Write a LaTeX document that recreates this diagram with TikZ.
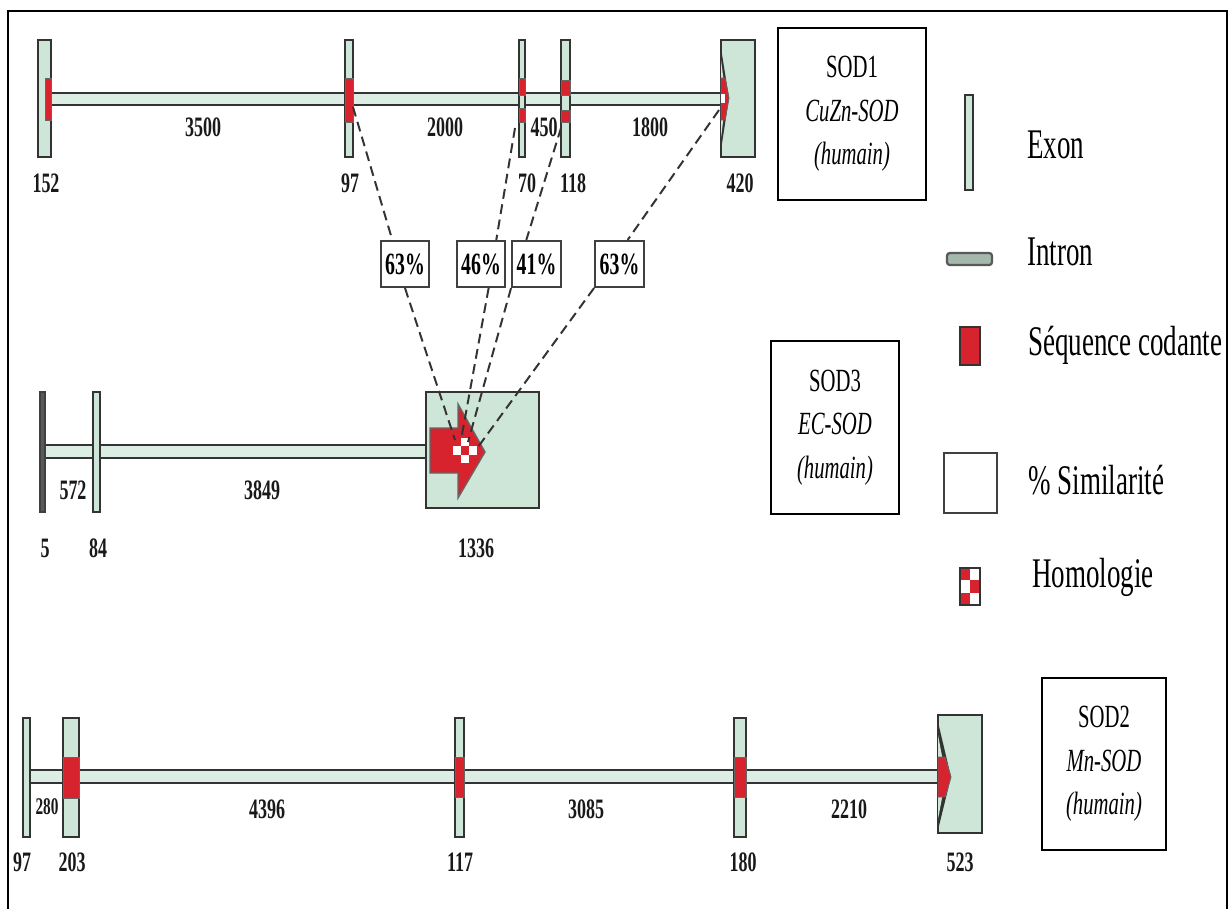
\documentclass[tikz,border=0pt]{standalone}
\usepackage{fontspec}
\setmainfont{Liberation Serif}[FakeStretch=0.64]
\usepackage{xcolor}
\usepackage{tikz}
\usetikzlibrary{calc, positioning}
\definecolor{exvert}{RGB}{205,230,215}
\definecolor{codrouge}{RGB}{215,35,45}

\begin{document}
\begin{tikzpicture}[x=0.025cm, y=-0.025cm,
    exon/.style={draw=black!80, fill=exvert, line width=1.1pt},
    intron/.style={draw=black!80, fill=exvert!70, line width=1.6pt},
    code/.style={draw=black!60, fill=codrouge, line width=0.6pt},
    num/.style={font=\bfseries\fontsize{20}{22}\selectfont, text=black!90, inner sep=0pt},
    pct/.style={draw=black!75, line width=1.5pt, fill=white, minimum width=1.22cm, minimum height=1.15cm, inner sep=1pt, font=\bfseries\fontsize{22}{24}\selectfont},
    gene/.style={draw, line width=1pt, align=center, font=\fontsize{23}{31}\selectfont},
    leg/.style={anchor=west, inner sep=0pt, font=\fontsize{30}{32}\selectfont},
    lien/.style={dashed, dash pattern=on 7pt off 4pt, line width=1.4pt, black!80}]
    \useasboundingbox (0,0) rectangle (1232,909);
    % Cadre ouvert en bas
    \draw[line width=2pt] (8,909) -- (8,11) -- (1227,11) -- (1227,909);

    % SOD1 : introns puis exons
    \draw[intron] (51,93) rectangle (721,105);
    \draw[exon] (38,40) rectangle (51,157);
    \draw[code] (45,78) rectangle (51,120);
    \draw[exon] (345,40) rectangle (353,157);
    \draw[code] (345,78) rectangle (353,122);
    \draw[exon] (519,40) rectangle (525,157);
    \draw[code] (519,78) rectangle (525,95) (519,108) rectangle (525,122);
    \draw[exon] (561,40) rectangle (570,157);
    \draw[code] (561,80) rectangle (570,95) (561,110) rectangle (570,122);
    \draw[exon] (721,40) rectangle (755,157);
    \fill[black!80] (721,48) -- (729,98) -- (721,150) -- cycle;
    \fill[exvert] (721,60) -- (726,98) -- (721,138) -- cycle;
    \draw[code] (721,78) -- (725,78) -- (729,98) -- (725,120) -- (721,120) -- cycle;
    \fill[white] (721,94) rectangle (725,103);
    \coordinate (c97) at (353,107);
    \coordinate (c70) at (515,128);
    \coordinate (c118) at (561,128);
    \coordinate (c420) at (719,110);

    % Tailles SOD1
    \node[num] (i3500) at (203,127) {3500};
    \node[num] (i2000) at (445,127) {2000};
    \node[num] (i450) at (544,127) {450};
    \node[num] (i1800) at (650,127) {1800};
    \node[num] (n152) at (46,183) {152};
    \node[num] (n97a) at (350,183) {97};
    \node[num] (n70) at (527,183) {70};
    \node[num] (n118) at (573,183) {118};
    \node[num] (n420) at (740,183) {420};

    % SOD3 : introns, exons et fleche codante
    \draw[intron] (45,445) rectangle (426,458);
    \draw[draw=black!75, fill=black!65, line width=0.8pt] (40,392) rectangle (45,512);
    \draw[exon] (93,392) rectangle (100,512);
    \draw[exon] (426,392) rectangle (539,508);
    \draw[code, line width=1pt] (430,428) -- (458,428) -- (458,404) -- (485,452) -- (458,498) -- (458,473) -- (430,473) -- cycle;
    \fill[white] (453,438) rectangle (477,463);
    \foreach \i/\j in {0/0, 2/0, 1/1, 0/2, 2/2}
        \fill[codrouge] (453+\i*8, 438+\j*8.33) rectangle ++(8,8.33);
    \coordinate (h1) at (455,440);
    \coordinate (h2) at (461,440);
    \coordinate (h3) at (468,442);
    \coordinate (h4) at (478,447);

    % Tailles SOD3
    \node[num] (i572) at (73,490) {572};
    \node[num] (i3849) at (262,490) {3849};
    \node[num] (n5) at (45,548) {5};
    \node[num] (n84) at (98,548) {84};
    \node[num] (n1336) at (476,548) {1336};

    % Pourcentages de similarite et liens pointilles
    \node[pct] (p63a) at (405,264) {63\%};
    \node[pct] (p46) at (481,264) {46\%};
    \node[pct] (p41) at (536.5,264) {41\%};
    \node[pct] (p63b) at (619.5,264) {63\%};
    \draw[lien] (c97) -- ($(p63a.north west)!.25!(p63a.north east)$);
    \draw[lien] (p63a.south) -- (h1);
    \draw[lien] (c70) -- ($(p46.north west)!.8!(p46.north east)$);
    \draw[lien] ($(p46.south west)!.65!(p46.south east)$) -- (h2);
    \draw[lien] (c118) -- ($(p41.north west)!.3!(p41.north east)$);
    \draw[lien] (p41.south west) -- (h3);
    \draw[lien] (c420) -- ($(p63b.north west)!.66!(p63b.north east)$);
    \draw[lien] (p63b.south west) -- (h4);

    % SOD2 : introns puis exons
    \draw[intron] (30,770) rectangle (938,783);
    \draw[exon] (23,718) rectangle (30,837);
    \draw[exon] (63,718) rectangle (79,837);
    \draw[code] (63,757) rectangle (79,798);
    \draw[exon] (455,718) rectangle (464,837);
    \draw[code] (455,757) rectangle (464,797);
    \draw[exon] (734,718) rectangle (746,837);
    \draw[code] (734,757) rectangle (746,797);
    \draw[exon] (938,715) rectangle (982,833);
    \fill[black!80] (938,722) -- (951,777) -- (938,830) -- cycle;
    \fill[exvert] (938,735) -- (946,777) -- (938,819) -- cycle;
    \draw[code] (938,757) -- (945,757) -- (951,777) -- (945,797) -- (938,797) -- cycle;

    % Tailles SOD2
    \node[num, font=\bfseries\fontsize{17}{19}\selectfont] (i280) at (47,807) {280};
    \node[num] (i4396) at (267,809) {4396};
    \node[num] (i3085) at (586,809) {3085};
    \node[num] (i2210) at (849,809) {2210};
    \node[num] (n97b) at (22,862) {97};
    \node[num] (n203) at (72,862) {203};
    \node[num] (n117) at (460,862) {117};
    \node[num] (n180) at (743,862) {180};
    \node[num] (n523) at (960,862) {523};

    % Noms des genes
    \node[gene, minimum width=3.7cm, minimum height=4.3cm] (sod1) at (852,114) {SOD1\\\textit{CuZn-SOD}\\\textit{(humain)}};
    \node[gene, minimum width=3.2cm, minimum height=4.33cm] (sod3) at (835,427.5) {SOD3\\\textit{EC-SOD}\\\textit{(humain)}};
    \node[gene, minimum width=3.1cm, minimum height=4.3cm] (sod2) at (1104,764) {SOD2\\\textit{Mn-SOD}\\\textit{(humain)}};

    % Legende
    \draw[exon] (965,95) rectangle (973,190);
    \node[leg] (lexon) at (1027,145) {Exon};
    \draw[intron, draw=black!65, fill=black!20!exvert, rounded corners=2pt] (947,253) rectangle (992,265);
    \node[leg] (lintron) at (1027,252) {Intron};
    \draw[code, draw=black!80, line width=1pt] (960,327) rectangle (980,365);
    \node[leg] (lcode) at (1028,345) {Séquence codante};
    \draw[draw=black!75, line width=2pt] (944,453) rectangle (997,513);
    \node[leg] (lsim) at (1028,480) {\% Similarité};
    \fill[white] (960,568) rectangle (980,605);
    \foreach \i/\j in {0/0, 1/1, 0/2}
        \fill[codrouge] (960+\i*10, 568+\j*12.33) rectangle ++(10,12.33);
    \draw[black!80, line width=1pt] (960,568) rectangle (980,605);
    \node[leg] (lhom) at (1032,577) {Homologie};
\end{tikzpicture}
\end{document}
